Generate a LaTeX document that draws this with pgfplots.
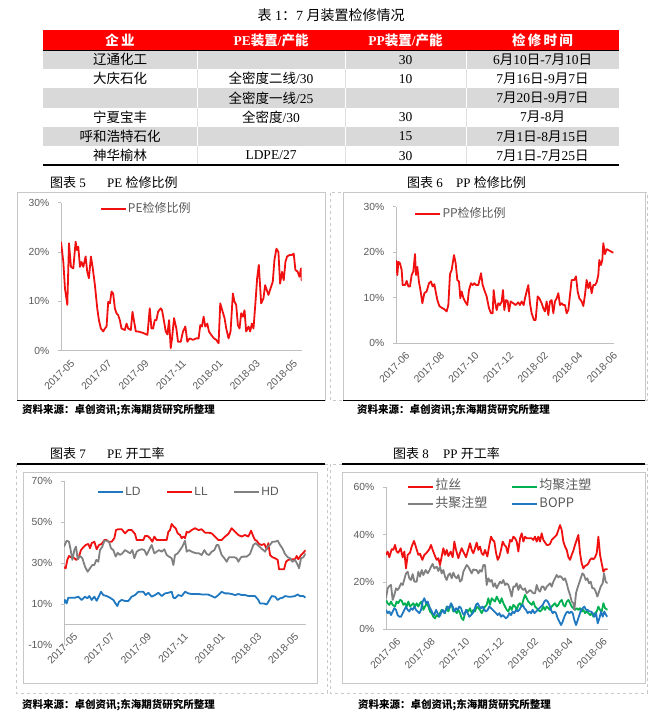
\documentclass[border=0pt]{standalone}
\usepackage{fontspec}
\setmainfont{Liberation Serif}
\newfontfamily\cjk{Noto Sans CJK SC}
\newfontfamily\lsans{Liberation Sans}
\usepackage{pgfplots}
\pgfplotsset{compat=1.18}
\definecolor{xred}{HTML}{FF0000}
\definecolor{rowgray}{HTML}{D9D9D9}
\definecolor{lred}{HTML}{F01010}
\definecolor{lblue}{HTML}{1F78C0}
\definecolor{lgray}{HTML}{808080}
\definecolor{lgreen}{HTML}{00B050}
\definecolor{tickc}{HTML}{595959}
\definecolor{axl}{HTML}{BFBFBF}
\definecolor{frm}{HTML}{C8C8C8}
\newcommand{\C}[1]{{\cjk #1}}
\newcommand{\Y}[1]{714-#1}
\pgfplotsset{
  xlstyle/.style={
    scale only axis,
    axis y line*=left,
    axis line style={draw=axl, line width=0.6pt},
    ytick style={draw=axl, line width=0.6pt},
    xtick style={draw=none},
    tick align=outside,
    major tick length=3pt,
    tick label style={font=\lsans\fontsize{10.3}{12}\selectfont, text=tickc},
    xticklabel style={rotate=45, anchor=north east, inner sep=0pt, yshift=-10pt, xshift=3pt},
    yticklabel style={anchor=east, inner sep=0pt, xshift=-8.5pt},
    legend cell align=left,
    legend style={draw=none, fill=none, inner sep=0pt, font=\cjk\fontsize{12}{14}\selectfont, text=tickc,
      nodes={inner sep=1.2pt, text height=9pt, text depth=3pt}},
    legend image code/.code={\draw[#1] (0pt,0pt) -- (25pt,0pt);},
    every axis plot/.append style={line width=1.8pt, line join=round},
  }
}
\begin{document}
\begin{tikzpicture}[x=1pt,y=1pt]
\useasboundingbox (0,0) rectangle (665,714);
% ---------------- table ----------------
\node[font=\fontsize{14}{16}\selectfont] at (331,\Y{15}) {\C{表} 1\C{：}7 \C{月装置检修情况}};
\fill[xred] (43,\Y{30}) rectangle (619,\Y{50});
\fill[rowgray] (43,\Y{50}) rectangle (619,\Y{69.2});
\fill[rowgray] (43,\Y{88.4}) rectangle (619,\Y{107.6});
\fill[rowgray] (43,\Y{126.8}) rectangle (619,\Y{146});
\foreach \xx in {197,345,466}{
  \draw[white, line width=1pt] (\xx,\Y{50}) -- (\xx,\Y{69.2});
  \draw[white, line width=1pt] (\xx,\Y{88.4}) -- (\xx,\Y{107.6});
  \draw[white, line width=1pt] (\xx,\Y{126.8}) -- (\xx,\Y{146});
  \draw[gray!25, line width=0.5pt] (\xx,\Y{69.2}) -- (\xx,\Y{88.4});
  \draw[gray!25, line width=0.5pt] (\xx,\Y{107.6}) -- (\xx,\Y{126.8});
  \draw[gray!25, line width=0.5pt] (\xx,\Y{146}) -- (\xx,\Y{165});
}
\draw[black, line width=0.8pt] (43,\Y{50}) -- (619,\Y{50});
\draw[black, line width=1.6pt] (43,\Y{165.3}) -- (619,\Y{165.3});
\begin{scope}[every node/.style={font=\fontsize{13.5}{15}\selectfont, inner sep=0pt}]
\node[text=white] at (120,\Y{40}) {\C{\bfseries 企\,业}};
\node[text=white] at (271,\Y{40}) {\bfseries PE\C{\bfseries 装置}/\C{\bfseries 产能}};
\node[text=white] at (405.5,\Y{40}) {\bfseries PP\C{\bfseries 装置}/\C{\bfseries 产能}};
\node[text=white] at (542.5,\Y{40}) {\C{\bfseries 检\,修\,时\,间}};
% row 1
\node at (120,\Y{59.6}) {\C{辽通化工}};
\node at (405.5,\Y{59.6}) {30};
\node at (542.5,\Y{59.6}) {6\C{月}10\C{日}-7\C{月}10\C{日}};
% row 2
\node at (120,\Y{78.8}) {\C{大庆石化}};
\node at (271,\Y{78.8}) {\C{全密度二线}/30};
\node at (405.5,\Y{78.8}) {10};
\node at (542.5,\Y{78.8}) {7\C{月}16\C{日}-9\C{月}7\C{日}};
% row 3
\node at (271,\Y{98}) {\C{全密度一线}/25};
\node at (542.5,\Y{98}) {7\C{月}20\C{日}-9\C{月}7\C{日}};
% row 4
\node at (120,\Y{117.2}) {\C{宁夏宝丰}};
\node at (271,\Y{117.2}) {\C{全密度}/30};
\node at (405.5,\Y{117.2}) {30};
\node at (542.5,\Y{117.2}) {7\C{月}-8\C{月}};
% row 5
\node at (120,\Y{136.4}) {\C{呼和浩特石化}};
\node at (405.5,\Y{136.4}) {15};
\node at (542.5,\Y{136.4}) {7\C{月}1\C{日}-8\C{月}15\C{日}};
% row 6
\node at (120,\Y{155.6}) {\C{神华榆林}};
\node at (271,\Y{155.6}) {LDPE/27};
\node at (405.5,\Y{155.6}) {30};
\node at (542.5,\Y{155.6}) {7\C{月}1\C{日}-7\C{月}25\C{日}};
\end{scope}
% ---------------- frames, captions, sources ----------------
\draw[frm, line width=0.6pt] (17,\Y{192.7}) rectangle (325,\Y{400});
\draw[frm, line width=0.6pt, dashed] (330,\Y{192.7}) rectangle (647,\Y{400});
\draw[frm, line width=0.6pt] (343,\Y{192.7}) rectangle (645,\Y{400});
\draw[black, line width=1.3pt] (17,\Y{400.8}) -- (325,\Y{400.8});
\draw[black, line width=1.3pt] (343,\Y{400.8}) -- (645,\Y{400.8});
\draw[frm, line width=0.6pt, dashed] (16,\Y{464}) rectangle (327,\Y{693});
\draw[frm, line width=0.6pt] (23.3,\Y{472.7}) rectangle (317,\Y{683.3});
\draw[frm, line width=0.6pt, dashed] (330,\Y{464}) rectangle (647,\Y{693});
\draw[frm, line width=0.6pt] (342,\Y{472.7}) rectangle (645,\Y{683.3});
\draw[black, line width=1.3pt] (17,\Y{464}) -- (325,\Y{464});
\draw[black, line width=1.3pt] (342,\Y{464}) -- (645,\Y{464});
\begin{scope}[every node/.style={font=\fontsize{13}{15}\selectfont, inner sep=0pt, anchor=west}]
\node at (50,\Y{182.3}) {\C{图表} 5};
\node at (107,\Y{182.3}) {PE \C{检修比例}};
\node at (407,\Y{182.3}) {\C{图表} 6};
\node at (456,\Y{182.3}) {PP \C{检修比例}};
\node at (50,\Y{453.3}) {\C{图表} 7};
\node at (107,\Y{453.3}) {PE \C{开工率}};
\node at (393,\Y{453.3}) {\C{图表} 8};
\node at (443,\Y{453.3}) {PP \C{开工率}};
\end{scope}
\begin{scope}[every node/.style={font=\cjk\bfseries\fontsize{10.5}{12}\selectfont, inner sep=0pt, anchor=west}]
\node at (22,\Y{410.5}) {资料来源：卓创资讯;东海期货研究所整理};
\node at (357,\Y{410.5}) {资料来源：卓创资讯;东海期货研究所整理};
\node at (22,\Y{705}) {资料来源：卓创资讯;东海期货研究所整理};
\node at (358,\Y{705}) {资料来源：卓创资讯;东海期货研究所整理};
\end{scope}
% ---------------- chart 5: PE maintenance ratio ----------------
\begin{axis}[xlstyle, at={(61pt,363.3pt)}, anchor=south west,
  width=240.7pt, height=147.9pt, axis x line*=bottom,
  xmin=18, xmax=742, ymin=0, ymax=30,
  ytick={0,10,20,30}, yticklabels={0\%,10\%,20\%,30\%},
  xtick={18,129.6,241.2,352.8,464.4,576,687.6},
  xticklabels={2017-05,2017-07,2017-09,2017-11,2018-01,2018-03,2018-05},
  legend style={at={(0.161,0.958)}, anchor=west}]
\addplot[lred] coordinates {
(18,22.1)(25,18.0)(30,12.6)(37,9.3)(42,21.8)(48,17.0)(55,16.7)(62,22.1)(66,20.4)(70,21.1)
(75,17.0)(80,18.0)(85,17.0)(92,19.1)(97,16.0)(102,14.7)(108,19.1)(113,17.0)(120,13.3)(127,8.6)
(132,6.2)(138,4.5)(145,3.9)(150,4.5)(155,4.9)(160,9.9)(165,9.6)(170,12.0)(175,11.6)(180,8.6)
(185,7.6)(190,7.2)(195,6.2)(200,4.5)(210,4.2)(215,5.5)(220,4.5)(228,4.2)(233,7.9)(238,5.9)
(243,3.9)(250,3.9)(265,3.6)(278,3.2)(285,8.6)(290,4.5)(295,4.5)(300,6.2)(305,6.2)(310,7.9)
(318,8.6)(322,8.2)(328,5.9)(333,3.9)(338,3.3)(343,6.2)(348,0.5)(352,2.5)(358,6.6)(365,4.5)
(370,1.8)(378,1.8)(385,3.9)(392,4.9)(398,1.8)(405,2.5)(415,2.2)(425,2.5)(432,2.5)(437,5.2)
(442,4.9)(447,6.9)(452,4.9)(458,5.5)(463,3.9)(470,3.2)(478,2.5)(485,2.2)(492,1.5)(497,9.6)
(503,8.2)(510,6.6)(515,4.5)(522,2.5)(528,3.9)(535,11.6)(540,9.9)(545,9.3)(550,5.2)(555,4.5)
(560,7.6)(565,6.9)(570,8.2)(575,3.9)(582,4.9)(587,3.9)(592,5.5)(597,4.5)(603,9.9)(608,14.7)
(613,17.4)(620,9.6)(627,10.6)(632,13.3)(637,12.3)(642,11.3)(648,12.6)(655,14.0)(660,18.4)(666,20.7)
(672,20.0)(677,13.6)(683,16.0)(688,14.3)(693,18.0)(698,19.1)(705,19.4)(712,19.4)(718,19.7)(723,16.4)
(730,16.0)(735,15.0)(740,16.7)(742,14.1)};
\addlegendentry{PE检修比例}
\end{axis}
% ---------------- chart 6: PP maintenance ratio ----------------
\begin{axis}[xlstyle, at={(396pt,370.7pt)}, anchor=south west,
  width=218.3pt, height=136.5pt, axis x line*=bottom,
  xmin=33, xmax=688, ymin=0, ymax=30,
  ytick={0,10,20,30}, yticklabels={0\%,10\%,20\%,30\%},
  xtick={33,136.8,240.6,344.4,448.2,552,655.8},
  xticklabels={2017-06,2017-08,2017-10,2017-12,2018-02,2018-04,2018-06},
  legend style={at={(0.084,0.947)}, anchor=west}]
\addplot[lred] coordinates {
(33,18.3)(37,15.0)(40,17.9)(45,17.6)(50,16.1)(53,12.8)(60,12.8)(65,13.7)(70,12.5)(75,12.5)
(80,15.0)(85,15.8)(90,19.6)(93,15.0)(97,16.8)(102,13.4)(107,11.4)(112,8.8)(118,11.0)(125,11.4)
(132,13.2)(138,13.6)(143,12.5)(148,13.0)(152,11.4)(157,9.5)(163,8.2)(170,7.8)(178,7.5)(185,7.0)
(190,8.4)(195,15.2)(200,16.1)(207,19.4)(212,17.6)(217,13.9)(222,13.6)(226,9.9)(230,11.4)(235,10.0)
(240,9.2)(247,8.4)(252,11.7)(258,13.2)(263,12.8)(268,13.2)(273,12.8)(280,12.8)(288,15.4)(293,12.8)
(298,11.7)(305,10.3)(312,7.7)(318,6.6)(323,6.6)(326,11.7)(330,9.2)(335,7.3)(340,8.8)(345,8.4)
(350,9.2)(354,11.7)(358,7.3)(363,9.5)(368,9.3)(372,7.0)(377,9.2)(385,8.8)(392,8.4)(400,9.0)
(405,8.4)(410,9.2)(416,8.4)(420,9.9)(425,11.4)(430,12.8)(435,8.8)(440,6.6)(447,5.1)(452,5.1)
(458,10.3)(463,9.9)(470,8.8)(475,7.7)(480,7.0)(485,9.2)(490,6.2)(495,9.2)(500,9.5)(505,6.6)
(510,9.2)(515,9.9)(520,11.0)(525,8.4)(530,8.8)(535,8.4)(540,8.4)(545,6.6)(550,7.3)(555,10.6)
(560,13.9)(568,13.9)(573,14.7)(578,11.4)(583,9.9)(590,9.2)(595,8.2)(600,10.6)(605,13.9)(610,12.1)
(615,13.4)(620,11.0)(625,12.8)(630,12.8)(635,13.4)(640,15.0)(643,18.3)(648,17.2)(652,18.3)(655,22.0)
(660,19.6)(665,20.7)(670,20.5)(675,20.3)(680,20.1)(685,19.9)};
\addlegendentry{PP检修比例}
\end{axis}
% ---------------- chart 7: PE operating rate ----------------
\begin{axis}[xlstyle, at={(64pt,69.1pt)}, anchor=south west,
  width=241.7pt, height=163.5pt, axis x line*=middle, hide obscured x ticks=false,
  xmin=27, xmax=752, ymin=-10, ymax=70,
  ytick={-10,10,30,50,70}, yticklabels={-10\%,10\%,30\%,50\%,70\%},
  xtick={27,137.4,247.8,358.2,468.6,579,689.4},
  xticklabels={2017-05,2017-07,2017-09,2017-11,2018-01,2018-03,2018-05},
  legend columns=3,
  legend style={at={(0.137,0.933)}, anchor=west, font=\lsans\fontsize{12}{14}\selectfont,
    /tikz/every even column/.append style={column sep=24.5pt}}]
\addplot[lblue] coordinates {
(27,10.3)(30,12.0)(35,10.3)(40,13.1)(50,13.1)(60,13.1)(70,13.6)(80,12.0)(90,13.6)(97,12.8)
(103,13.9)(110,12.0)(118,13.6)(125,11.6)(132,13.9)(138,16.0)(145,14.4)(155,13.9)(165,13.1)(175,12.0)
(180,10.7)(187,9.0)(192,11.1)(200,12.0)(210,11.5)(220,11.5)(230,13.6)(240,14.4)(250,16.0)(265,16.0)
(272,14.4)(280,15.5)(290,13.6)(300,14.4)(310,15.5)(320,13.9)(330,15.2)(340,15.5)(350,16.0)(355,13.1)
(360,12.8)(370,14.4)(380,13.9)(390,16.0)(400,15.2)(410,14.9)(420,14.9)(430,14.9)(440,14.7)(450,14.7)
(460,14.6)(470,13.9)(480,13.1)(490,14.4)(500,16.0)(510,15.2)(520,15.2)(530,14.9)(540,14.4)(550,14.9)
(560,14.4)(570,14.4)(580,13.9)(590,13.9)(600,13.9)(610,12.0)(615,10.3)(625,10.3)(635,9.8)(640,11.1)
(650,13.9)(660,13.6)(668,12.0)(675,12.8)(683,13.1)(690,13.9)(700,13.6)(710,13.6)(720,13.9)(728,14.7)
(735,13.9)(745,13.9)(752,13.1)};
\addlegendentry{LD}
\addplot[lred] coordinates {
(27,28.0)(32,27.5)(37,31.6)(42,33.5)(47,32.9)(52,33.5)(58,32.4)(64,31.6)(70,32.4)(78,36.4)
(85,37.8)(92,38.9)(100,39.4)(105,37.3)(110,39.8)(118,40.5)(125,36.8)(132,38.9)(140,39.4)(148,41.3)
(155,41.3)(160,40.5)(170,40.5)(178,42.2)(183,46.2)(190,46.6)(200,46.6)(210,44.6)(220,46.2)(230,46.2)
(240,44.3)(245,41.3)(255,41.3)(265,41.3)(270,43.3)(278,43.3)(285,42.2)(292,40.5)(298,43.0)(305,41.3)
(315,41.3)(325,41.3)(335,41.3)(340,45.4)(345,46.2)(350,49.2)(356,47.9)(362,47.1)(368,44.6)(375,43.8)
(380,42.2)(385,43.0)(390,42.2)(395,45.4)(400,44.9)(410,46.2)(420,47.1)(430,46.2)(440,46.6)(450,44.9)
(460,44.9)(470,44.6)(480,43.0)(490,41.3)(500,41.3)(510,43.0)(520,44.3)(530,47.1)(540,45.4)(550,43.8)
(560,43.0)(570,43.8)(580,43.0)(588,45.9)(595,43.0)(600,41.3)(605,41.0)(612,39.4)(620,38.9)(628,39.4)
(635,36.8)(640,39.8)(645,34.0)(652,32.9)(660,32.4)(668,31.6)(672,27.0)(680,27.0)(687,27.0)(693,30.7)
(700,31.6)(710,31.9)(720,31.9)(725,33.5)(730,31.9)(738,34.0)(745,35.1)(752,36.4)};
\addlegendentry{LL}
\addplot[lgray] coordinates {
(27,38.1)(35,41.0)(42,40.5)(47,36.4)(52,31.6)(58,36.4)(63,38.1)(68,31.9)(75,33.5)(82,32.4)
(90,28.3)(98,25.8)(105,27.5)(112,29.1)(118,29.1)(124,31.6)(130,30.7)(135,36.4)(142,38.1)(148,41.0)
(155,41.0)(162,40.5)(168,37.3)(175,36.4)(182,33.2)(188,35.1)(195,34.0)(202,34.8)(210,36.4)(218,35.6)
(225,34.8)(232,36.4)(238,32.4)(245,35.6)(252,36.4)(260,36.8)(268,36.4)(275,34.0)(282,36.4)(290,38.9)
(298,34.8)(305,35.6)(312,36.4)(320,35.6)(328,36.8)(335,34.0)(342,33.2)(350,32.4)(355,29.1)(360,34.0)
(368,34.8)(375,36.4)(382,38.1)(390,41.0)(395,35.6)(402,36.4)(410,35.6)(418,35.1)(425,34.8)(432,34.8)
(440,34.0)(448,36.4)(455,34.5)(462,34.0)(470,35.6)(478,36.4)(485,38.9)(490,38.9)(495,36.4)(500,34.0)
(508,32.4)(515,30.7)(522,32.9)(530,32.9)(538,32.9)(545,32.4)(550,30.7)(558,32.9)(565,33.2)(575,33.2)
(585,34.5)(595,38.9)(602,39.8)(610,38.6)(618,37.3)(625,36.4)(630,35.6)(638,38.1)(645,38.9)(652,40.5)
(660,40.5)(668,41.0)(675,38.9)(682,37.3)(690,34.5)(698,32.9)(705,32.4)(712,30.7)(720,31.6)(728,29.1)
(732,27.5)(738,32.4)(745,32.9)(752,34.8)};
\addlegendentry{HD}
\end{axis}
% ---------------- chart 8: PP operating rate ----------------
\begin{axis}[xlstyle, at={(386pt,84.7pt)}, anchor=south west,
  width=221.7pt, height=142.2pt, axis x line*=bottom,
  xmin=18, xmax=683, ymin=0, ymax=60,
  ytick={0,20,40,60}, yticklabels={0\%,20\%,40\%,60\%},
  xtick={21,124.2,227.4,330.6,433.8,537,640.2},
  xticklabels={2017-06,2017-08,2017-10,2017-12,2018-02,2018-04,2018-06},
  legend columns=2,
  legend style={at={(0.095,0.942)}, anchor=west, row sep=3pt, font=\cjk\fontsize{13}{15}\selectfont,
    /tikz/every even column/.append style={column sep=23pt}}]
\addplot[lred] coordinates {
(18,31.4)(23,32.8)(28,30.4)(35,33.8)(40,33.5)(45,35.6)(50,32.8)(55,32.3)(62,34.2)(68,30.4)
(73,32.8)(78,25.7)(83,31.4)(90,32.3)(95,34.9)(102,37.3)(108,34.6)(115,31.4)(120,31.9)(127,29.3)
(133,31.4)(140,32.3)(148,33.8)(153,35.6)(158,33.5)(165,30.9)(170,29.3)(175,30.0)(180,27.1)(185,30.7)
(190,34.2)(195,31.4)(200,33.5)(205,30.9)(212,32.8)(218,30.4)(223,37.0)(228,33.5)(235,30.0)(240,32.3)
(245,34.2)(252,32.1)(258,30.4)(263,32.8)(270,36.3)(275,33.5)(280,32.1)(285,34.2)(290,36.6)(295,33.5)
(300,34.9)(305,32.1)(310,31.4)(315,33.5)(322,30.7)(328,35.6)(333,39.1)(338,37.7)(343,37.0)(348,32.3)
(353,29.3)(358,30.7)(363,33.5)(368,37.0)(373,35.6)(378,34.9)(383,32.1)(390,37.7)(395,37.0)(400,39.1)
(405,38.4)(410,37.0)(415,32.8)(420,38.4)(425,40.5)(430,37.0)(435,39.1)(440,38.4)(445,38.4)(455,38.4)
(460,37.7)(465,39.1)(470,37.0)(475,39.1)(480,37.0)(485,40.5)(490,37.7)(500,35.6)(505,35.6)(510,36.0)
(515,37.7)(520,38.4)(525,39.1)(530,39.8)(535,41.9)(540,44.0)(545,41.9)(550,37.0)(555,34.9)(560,33.5)
(565,30.4)(570,29.3)(575,31.4)(580,33.2)(585,35.6)(590,37.7)(595,39.8)(600,32.1)(605,27.8)(610,25.7)
(615,26.7)(620,27.1)(625,27.8)(630,29.3)(635,30.0)(640,29.5)(645,30.4)(650,32.1)(655,39.1)(660,31.4)
(665,27.8)(670,24.3)(675,25.3)(683,25.3)};
\addlegendentry{拉丝}
\addplot[lgreen] coordinates {
(18,12.4)(23,11.0)(28,10.3)(33,11.7)(38,10.3)(45,9.6)(50,11.7)(55,11.0)(60,12.4)(65,12.1)
(70,10.3)(75,11.0)(80,9.6)(85,11.7)(90,9.6)(95,10.3)(100,11.0)(105,9.6)(110,11.0)(115,9.6)
(120,11.0)(125,11.7)(130,8.2)(135,9.6)(140,11.0)(145,9.6)(150,7.5)(155,6.8)(160,5.3)(165,4.6)
(170,6.0)(175,5.3)(180,6.8)(185,8.2)(190,7.5)(195,6.8)(200,9.6)(205,7.5)(210,9.6)(215,10.3)
(220,7.5)(225,8.2)(230,6.8)(235,8.2)(240,6.8)(245,4.6)(250,3.9)(255,6.8)(260,8.2)(265,7.5)
(270,8.9)(275,6.8)(280,8.2)(285,7.5)(290,9.6)(295,8.9)(300,8.2)(305,6.8)(310,8.2)(315,9.6)
(320,10.3)(325,13.1)(330,10.3)(335,13.1)(340,12.4)(345,11.7)(350,13.8)(355,12.4)(360,11.0)(365,13.1)
(370,11.0)(375,9.6)(380,8.2)(385,7.5)(390,9.6)(395,8.2)(400,10.3)(405,9.6)(410,8.2)(415,10.3)
(420,11.0)(425,9.6)(430,12.4)(435,14.5)(440,13.1)(445,11.7)(450,11.0)(455,10.3)(460,11.7)(465,9.6)
(470,8.9)(475,8.2)(480,7.5)(485,8.2)(490,9.6)(495,8.2)(500,9.6)(505,8.9)(510,8.2)(515,9.6)
(520,10.3)(525,11.0)(530,9.6)(535,10.3)(540,11.7)(545,12.4)(550,10.3)(555,9.6)(560,11.7)(565,12.4)
(570,11.0)(575,9.6)(580,8.9)(585,8.2)(590,8.9)(595,8.2)(600,8.9)(605,7.5)(610,8.2)(615,6.8)
(620,7.5)(625,6.8)(630,6.0)(635,6.8)(640,5.3)(645,6.8)(650,7.5)(655,9.6)(660,8.2)(665,7.5)
(670,11.0)(675,8.9)(683,8.2)};
\addlegendentry{均聚注塑}
\addplot[lgray] coordinates {
(18,13.1)(23,17.3)(28,18.3)(33,18.7)(38,12.4)(43,14.5)(48,17.3)(53,16.6)(58,17.7)(63,19.4)
(68,18.7)(73,21.1)(78,23.6)(83,24.3)(88,21.5)(93,20.8)(98,23.3)(103,20.1)(110,20.1)(115,24.3)
(120,22.2)(125,25.0)(130,22.9)(137,25.0)(143,23.6)(148,24.8)(153,26.4)(158,27.6)(163,25.7)(170,26.4)
(175,24.6)(180,26.4)(185,23.6)(190,25.0)(195,22.2)(200,20.8)(205,22.9)(210,23.6)(215,21.5)(220,23.9)
(225,22.2)(230,21.5)(235,22.9)(240,20.1)(245,20.8)(250,24.3)(255,25.7)(260,27.1)(265,26.4)(270,25.0)
(275,23.6)(280,25.3)(285,25.0)(290,25.0)(295,23.6)(300,25.0)(305,24.3)(310,27.1)(315,27.1)(320,18.7)
(325,21.5)(330,20.1)(335,20.8)(340,18.0)(345,19.4)(350,17.3)(355,18.7)(360,20.1)(365,19.4)(370,20.8)
(375,18.7)(380,19.4)(385,18.7)(390,16.6)(395,13.8)(400,18.0)(405,18.0)(410,19.4)(415,16.6)(420,18.7)
(425,17.3)(430,16.6)(435,17.3)(440,15.2)(445,15.9)(450,16.6)(455,15.9)(460,15.2)(465,15.2)(470,18.7)
(475,16.6)(480,15.9)(485,18.0)(490,18.0)(495,16.6)(500,18.0)(505,18.7)(510,19.4)(515,18.0)(520,20.1)
(525,21.5)(530,22.9)(535,21.9)(540,22.5)(545,21.9)(550,20.8)(555,21.5)(560,19.4)(565,16.6)(570,14.5)
(575,11.7)(580,11.0)(583,8.2)(588,15.2)(592,17.3)(597,19.4)(602,21.5)(607,23.6)(612,22.9)(617,20.8)
(622,21.5)(627,19.4)(632,20.1)(637,17.3)(642,17.3)(647,15.9)(652,13.8)(657,15.9)(662,18.0)(668,19.4)
(672,23.6)(677,20.1)(683,19.4)};
\addlegendentry{共聚注塑}
\addplot[lblue] coordinates {
(18,8.2)(23,6.8)(28,7.5)(33,6.0)(38,7.5)(43,8.9)(48,8.2)(53,6.0)(58,5.3)(63,5.3)
(68,6.8)(73,8.2)(78,9.6)(83,8.2)(88,7.5)(93,8.9)(98,8.2)(103,9.6)(108,8.2)(113,7.5)
(118,6.8)(123,8.2)(128,11.7)(133,13.1)(138,11.0)(143,11.7)(148,9.6)(153,8.2)(158,6.8)(163,6.0)
(168,8.2)(173,6.8)(178,5.3)(183,6.8)(188,8.2)(193,6.8)(198,8.2)(203,9.6)(208,8.9)(213,11.0)
(218,9.6)(223,7.5)(228,8.9)(233,8.2)(238,9.6)(243,8.9)(248,6.8)(253,6.0)(258,8.2)(263,6.8)
(268,5.3)(273,6.0)(278,6.8)(283,8.2)(288,10.3)(293,11.0)(298,9.6)(303,8.9)(308,9.6)(313,8.2)
(318,7.5)(323,8.2)(328,9.6)(333,8.9)(338,8.2)(343,7.5)(348,6.8)(353,6.0)(358,6.8)(363,5.3)
(368,6.0)(373,5.3)(378,4.6)(383,5.3)(388,6.8)(393,6.0)(398,7.5)(403,6.8)(408,8.2)(413,7.5)
(418,8.2)(423,9.6)(428,10.3)(433,8.9)(438,8.2)(443,6.8)(448,7.5)(453,6.8)(458,8.2)(463,6.8)
(468,7.5)(473,8.2)(478,8.9)(483,9.6)(488,10.3)(493,11.7)(498,12.4)(503,11.7)(508,10.3)(513,8.2)
(518,6.8)(523,7.5)(528,6.8)(533,4.6)(538,3.2)(543,1.8)(548,3.2)(553,5.3)(558,6.8)(563,7.5)
(568,6.8)(573,7.5)(578,6.8)(583,3.9)(588,1.8)(593,3.9)(598,6.0)(603,8.2)(608,8.9)(613,9.6)
(618,8.2)(623,8.2)(628,7.5)(633,7.5)(638,6.8)(643,5.3)(648,6.8)(653,2.5)(658,4.6)(663,7.5)
(668,5.3)(673,7.5)(678,6.0)(683,5.3)};
\addlegendentry{BOPP}
\end{axis}
\end{tikzpicture}
\end{document}
